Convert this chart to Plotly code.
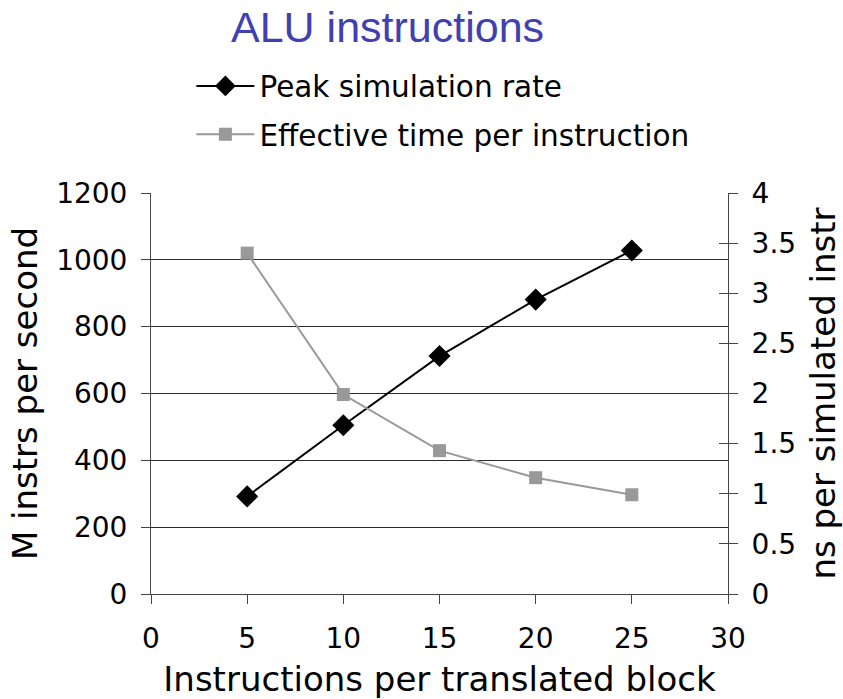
import plotly.graph_objects as go

x_vals = [5, 10, 15, 20, 25]
peak_rate = [292, 505, 712, 881, 1028]
eff_time = [3.40, 1.99, 1.43, 1.16, 0.99]

left_ticks = [0, 200, 400, 600, 800, 1000, 1200]
right_ticks = [0, 0.5, 1, 1.5, 2, 2.5, 3, 3.5, 4]
right_labels = ["0", "0.5", "1", "1.5", "2", "2.5", "3", "3.5", "4"]
x_ticks = [0, 5, 10, 15, 20, 25, 30]

FONT = "DejaVu Sans"
fs = 28

fig = go.Figure()
fig.add_trace(go.Scatter(
    x=x_vals, y=peak_rate, name="Peak simulation rate", mode="lines+markers",
    line=dict(color="black", width=2),
    marker=dict(symbol="diamond", size=17, color="black"),
    legendgroup="a", yaxis="y"))
fig.add_trace(go.Scatter(
    x=x_vals, y=eff_time, name="Effective time per instruction", mode="lines+markers",
    line=dict(color="#999999", width=2),
    marker=dict(symbol="square", size=13, color="#999999"),
    legendgroup="b", yaxis="y2"))

fig.update_layout(
    width=843, height=699,
    margin=dict(l=151, r=115, t=193, b=105, autoexpand=False),
    paper_bgcolor="white", plot_bgcolor="white",
    font=dict(family=FONT, size=fs, color="black"),
    title=dict(text="ALU instructions", font=dict(family="Liberation Sans", size=43, color="#4040B0"),
               x=0.41, xref="paper", xanchor="center", y=0.962, yref="container", yanchor="middle"),
    showlegend=True,
    legend=dict(x=0.07, y=1.331, xanchor="left", yanchor="top", orientation="v",
                font=dict(family=FONT, size=29.5), itemwidth=58, tracegroupgap=7,
                bgcolor="rgba(0,0,0,0)"),
    xaxis=dict(range=[0, 30], tickvals=x_ticks, ticks="outside", ticklen=9, tickcolor="#444",
               showline=True, linecolor="#444", linewidth=1, showgrid=False, zeroline=False,
               ticklabelstandoff=10, automargin=False,
               title=dict(text="Instructions per translated block", standoff=28),
               tickfont=dict(size=fs)),
    yaxis=dict(range=[0, 1200], tickvals=left_ticks, ticks="outside", ticklen=9, tickcolor="#444",
               showline=True, linecolor="#444", linewidth=1, showgrid=True, gridcolor="#2a2a2a",
               gridwidth=1, zeroline=False, ticklabelstandoff=8, automargin=False,
               title=dict(text="M instrs per second", standoff=8), tickfont=dict(size=fs)),
    yaxis2=dict(range=[0, 4], tickvals=right_ticks, ticktext=right_labels, overlaying="y", side="right",
                ticks="outside", ticklen=9, tickcolor="#444", showline=True, linecolor="#444", linewidth=1,
                showgrid=False, zeroline=False, ticklabelstandoff=8, automargin=False,
                title=dict(text="ns per simulated instr", standoff=19), tickfont=dict(size=fs)),
    yaxis3=dict(range=[0, 4], tickvals=right_ticks, overlaying="y", side="right",
                ticks="inside", ticklen=9, tickcolor="#444", showticklabels=False,
                showline=False, showgrid=False, zeroline=False, automargin=False),
)
fig.add_trace(go.Scatter(x=[None], y=[None], yaxis="y3", showlegend=False, hoverinfo="skip"))

fig.write_html("out.html")
